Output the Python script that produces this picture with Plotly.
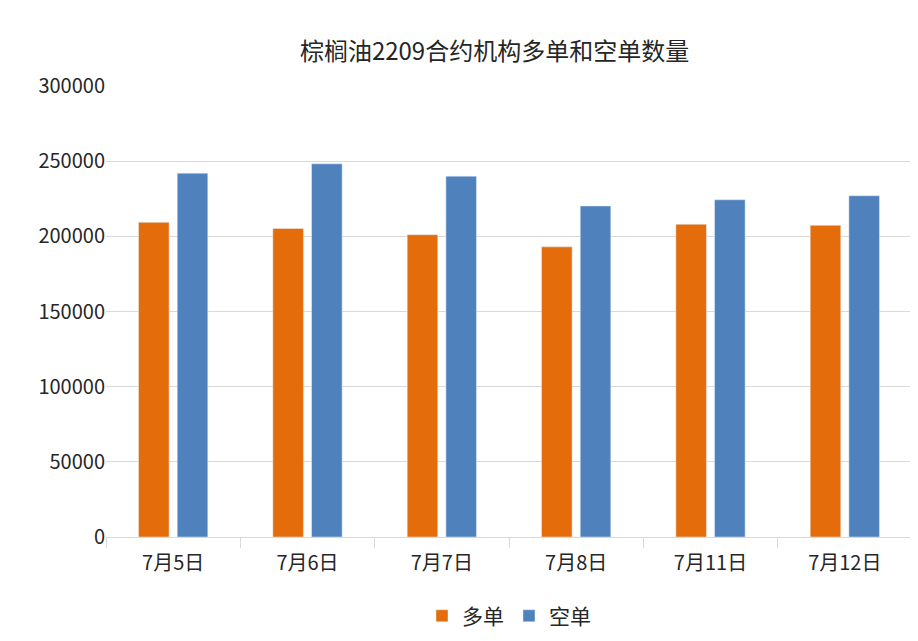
import plotly.graph_objects as go

categories = ["7月5日", "7月6日", "7月7日", "7月8日", "7月11日", "7月12日"]
long_vals = [209300, 205200, 201100, 193000, 208000, 207300]
short_vals = [242000, 248200, 240000, 220200, 224300, 227000]

fig = go.Figure()
fig.add_bar(x=categories, y=long_vals, name="多单", marker_color="#E46C0A")
fig.add_bar(x=categories, y=short_vals, name="空单", marker_color="#4F81BD")

font = "Noto Sans CJK SC, sans-serif"
fig.update_layout(
    width=918, height=641,
    paper_bgcolor="white", plot_bgcolor="white",
    font=dict(family=font, size=20, color="#262626"),
    title=dict(text="棕榈油2209合约机构多单和空单数量", x=0.53, y=0.945, xanchor="center",
               font=dict(size=24, color="#262626")),
    margin=dict(l=98, r=14, t=78, b=110),
    barmode="group", bargap=0.424, bargroupgap=0.21,
    legend=dict(orientation="h", x=0.5, xanchor="center", y=-0.13, yanchor="top",
                font=dict(size=21)),
    yaxis=dict(range=[0, 300000], dtick=50000, showgrid=True, gridcolor="#D9D9D9",
               zeroline=False, tickformat="d", ticks="", ticklen=0),
    xaxis=dict(showline=True, linecolor="#D9D9D9", ticks="outside", tickcolor="#D9D9D9",
               ticklen=10, tickson="boundaries", ticklabelstandoff=8),
)
fig.write_html("out.html")
